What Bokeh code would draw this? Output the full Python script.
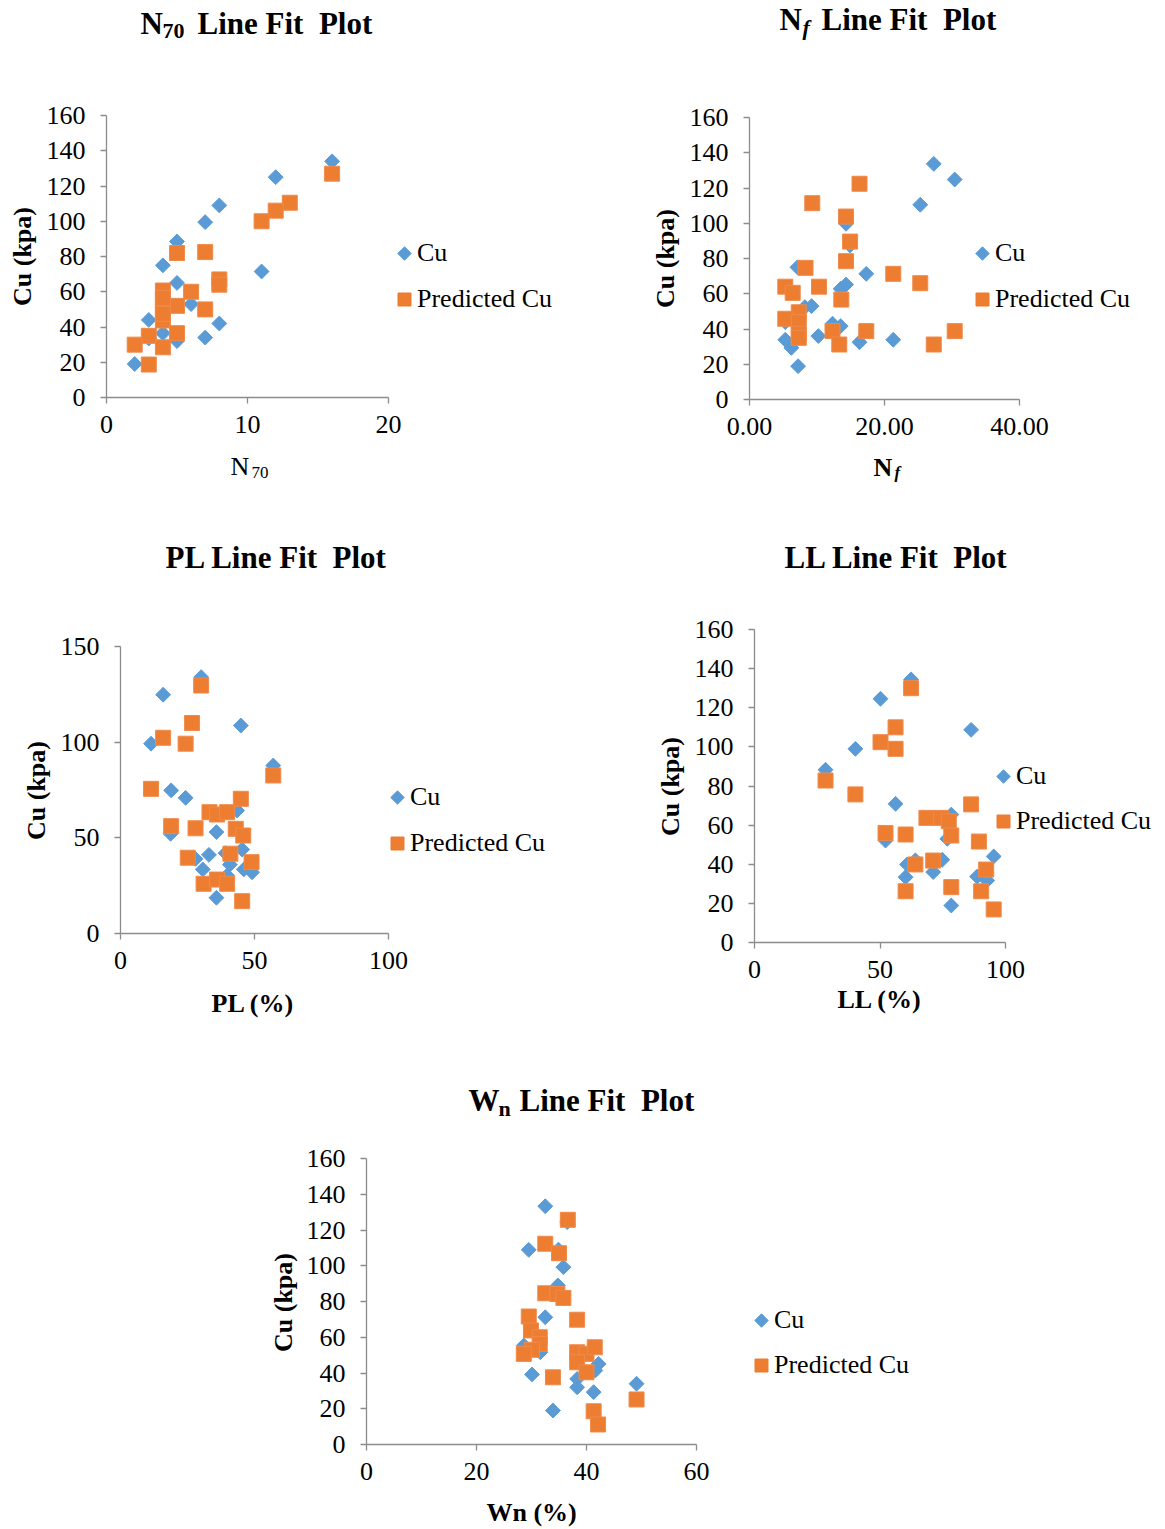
import numpy as np
from bokeh.plotting import figure
from bokeh.models import (Range1d, FixedTicker, Label, Legend, LegendItem,
                          PrintfTickFormatter)
from bokeh.layouts import column, row
from bokeh.embed import file_html
from bokeh.resources import INLINE

# ---------------- data ----------------
n70_cu_x = [16, 12, 8, 7, 5, 4, 11, 5, 6, 3, 8, 4, 5, 7, 3, 2]
n70_cu_y = [134, 125, 109, 99.5, 88.5, 75, 71.5, 65, 53, 44, 42, 36.5, 32, 34, 33.5, 19]
n70_pr_x = [16, 13, 12, 11, 5, 7, 8, 8, 4, 6, 4, 5, 7, 4, 3, 5, 2, 4, 3, 4, 4]
n70_pr_y = [127, 110.5, 106, 100, 82, 82.5, 67, 64, 60.7, 60, 52, 52, 50, 43.7, 35, 36.5, 30, 28.5, 18.7, 56.5, 47.5]

nf_cu_x = [27.3, 30.4, 25.3, 14.3, 14.9, 7.1, 17.3, 14.3, 13.5, 9.2, 8.2, 5.3, 12.3, 13.5, 10.2, 5.3, 6.2, 16.3, 21.3, 7.2]
nf_cu_y = [133.7, 124.8, 110.5, 99.7, 87.4, 75, 71.3, 65.2, 62.8, 53, 52.4, 43.9, 43, 41.6, 36, 33.9, 29.3, 32.5, 33.9, 18.9]
nf_pr_x = [16.3, 9.3, 14.3, 14.9, 14.3, 8.3, 21.3, 25.3, 5.3, 10.3, 6.4, 13.6, 7.3, 5.3, 7.3, 7.3, 7.3, 12.3, 17.3, 30.4, 13.3, 27.3]
nf_pr_y = [122.4, 111.4, 103.8, 89.6, 78.5, 74.7, 71.3, 66, 64, 64, 60.5, 56.7, 49.5, 45.8, 43.9, 37.3, 35, 38.8, 38.8, 38.8, 31.2, 31.2]

pl_cu_x = [30.1, 15.9, 44.9, 11.4, 57, 18.9, 24.3, 43.5, 18.7, 35.8, 28, 33, 39.2, 45.4, 30.7, 40.8, 46, 49.1, 39.8, 35.8]
pl_cu_y = [134, 124.8, 108.7, 99.2, 87.8, 74.8, 70.9, 64.3, 52.1, 53, 39, 41.1, 42, 43.9, 33.5, 36, 33.5, 32, 30.3, 18.7]
pl_pr_x = [30.1, 26.7, 15.9, 24.3, 57, 11.4, 44.9, 33.2, 36, 39.8, 18.9, 28, 43, 45.8, 25.1, 41, 48.9, 31, 36, 39.8, 45.4]
pl_pr_y = [129.6, 110, 102.3, 99.2, 82.6, 75.6, 70.4, 63.4, 62.2, 63.4, 56.1, 55, 54.7, 51.2, 39.6, 41.7, 37.3, 26, 28.2, 26, 16.9]

ll_cu_x = [62.4, 50.2, 86.3, 40.2, 28.3, 56.2, 78.4, 52.2, 76.8, 95.3, 60.8, 64.1, 74.8, 71.2, 60.2, 88.7, 92.7, 78.4]
ll_cu_y = [134.5, 124.6, 108.7, 99, 88.3, 70.9, 65.4, 52.1, 53, 44, 39.9, 42, 42.3, 36, 33.4, 33.7, 31.7, 18.9]
ll_pr_x = [62.4, 56.2, 50.2, 56.2, 28.3, 40.2, 86.3, 68.5, 74.4, 77.4, 52.2, 60.2, 78.4, 89.4, 64.1, 71.2, 92.3, 60.2, 78.4, 90.3, 95.3]
ll_pr_y = [130, 110, 102.4, 99, 82.8, 75.7, 70.6, 63.7, 63.7, 62, 56, 55.2, 54.7, 51.6, 39.9, 41.9, 37.3, 26.2, 28.3, 26.2, 16.9]

wn_cu_x = [32.5, 36.5, 29.5, 34.9, 35.8, 34.8, 32.5, 28.6, 31.6, 42.2, 30.1, 38.3, 38.3, 41.3, 49.1, 33.9, 41.6]
wn_cu_y = [133.3, 124.4, 108.9, 109, 99.2, 89, 71.2, 55.4, 51.6, 45.1, 39.2, 36.7, 32, 29.3, 34, 19, 41.4]
wn_pr_x = [36.6, 32.5, 35, 32.5, 34.7, 35.8, 29.5, 38.3, 29.9, 31.5, 31.5, 30.1, 28.6, 38.3, 40, 41.5, 38.3, 40, 33.9, 49.1, 41.3, 42.1]
wn_pr_y = [125.7, 112.3, 107, 84.6, 84.2, 82, 71.6, 69.8, 63.8, 60, 56.3, 53, 50.7, 51.6, 50.7, 54.4, 46, 40.4, 37.6, 25.2, 18.6, 11.2]

series_labels = ["Cu", "Predicted Cu"]
y_label = "Cu (kpa)"
ticks_160 = [0, 20, 40, 60, 80, 100, 120, 140, 160]
ticks_150 = [0, 50, 100, 150]
ticks_n70 = [0, 10, 20]
ticks_nf = [0, 20, 40]
ticks_100 = [0, 50, 100]
ticks_wn = [0, 20, 40, 60]

SERIF = "Liberation Serif"
BLUE = "#5B9BD5"
ORANGE = "#ED7D31"
AXIS = "#8C8C8C"
BL_FIX = 10


def make_panel(box, frame, xr, yr, xticks, yticks, cu, pr, titles, xlabels, ylab_pos, leg_pos, xfmt=None):
    ox, oy, W, H = box
    fl, ft, fw, fh = frame

    def dx(px):
        return xr[0] + (px - fl) / fw * (xr[1] - xr[0])

    def dy(py):
        return yr[0] + (ft + fh - py) / fh * (yr[1] - yr[0])

    p = figure(width=W, height=H, frame_width=W, frame_height=H,
               min_border_left=0, min_border_right=0, min_border_top=0, min_border_bottom=0,
               x_range=Range1d(dx(ox), dx(ox + W)), y_range=Range1d(dy(oy + H), dy(oy)),
               output_backend="svg", toolbar_location=None)
    p.outline_line_color = None
    p.xgrid.visible = False
    p.ygrid.visible = False
    p.xaxis.fixed_location = yr[0]
    p.yaxis.fixed_location = xr[0]
    p.xaxis.bounds = xr
    p.yaxis.bounds = yr
    for ax, tk in ((p.xaxis, xticks), (p.yaxis, yticks)):
        ax.ticker = FixedTicker(ticks=tk)
        ax.axis_line_color = AXIS
        ax.axis_line_width = 1.3
        ax.major_tick_line_color = AXIS
        ax.major_tick_line_width = 1.3
        ax.major_tick_out = 6
        ax.major_tick_in = 0
        ax.minor_tick_out = 0
        ax.minor_tick_in = 0
        ax.major_label_text_font = SERIF
        ax.major_label_text_font_size = "26px"
        ax.major_label_text_color = "#000000"
    p.xaxis.major_label_standoff = 12
    p.yaxis.major_label_standoff = 15
    if xfmt:
        p.xaxis.formatter = PrintfTickFormatter(format=xfmt)

    p.scatter(cu[0], cu[1], marker="square", angle=np.pi / 4, size=10.5,
              fill_color=BLUE, line_color=BLUE)
    p.scatter(pr[0], pr[1], marker="square", size=15,
              fill_color=ORANGE, line_color="#F08A4B")

    for (txt, px, py, fs, style) in titles + xlabels:
        p.add_layout(Label(x=dx(px), y=dy(py - BL_FIX), text=txt, text_font=SERIF,
                           text_font_size=fs, text_font_style=style,
                           text_align="left", text_baseline="alphabetic",
                           text_color="#000000"))
    p.add_layout(Label(x=dx(ylab_pos[0]), y=dy(ylab_pos[1]), text=y_label, text_font=SERIF,
                       text_font_size="26px", text_font_style="bold", angle=np.pi / 2,
                       text_align="center", text_baseline="middle", text_color="#000000"))

    # legend: keys drawn as markers, text via real Legend entries
    key_styles = [dict(marker="square", angle=np.pi / 4, size=9.5, fill_color=BLUE, line_color=BLUE),
                  dict(marker="square", angle=0, size=13, fill_color=ORANGE, line_color=ORANGE)]
    for lbl, (cx, cy), ks in zip(series_labels, leg_pos, key_styles):
        p.scatter([dx(cx)], [dy(cy)], **ks)
        dummy = p.scatter([], [], marker="square", size=1, fill_alpha=0, line_alpha=0)
        lg = Legend(items=[LegendItem(label=lbl, renderers=[dummy])],
                    location=(cx - 13 - ox, (oy + H) - cy - 17),
                    padding=0, margin=0, spacing=0, glyph_width=26, glyph_height=34,
                    label_height=34, label_standoff=0, label_text_font=SERIF,
                    label_text_font_size="26px", label_text_color="#000000",
                    border_line_color=None, background_fill_alpha=0)
        p.add_layout(lg)
    return p


T = "31px"
S = "22px"
A = make_panel((0, 0, 580, 500), (106, 115, 282, 282), (0, 20), (0, 160), ticks_n70, ticks_160,
               (n70_cu_x, n70_cu_y), (n70_pr_x, n70_pr_y),
               [("N", 140, 32.5, T, "bold"), ("70", 162, 40.5, S, "bold"),
                ("Line Fit\u00a0 Plot", 197, 32.5, T, "bold")],
               [("N", 230, 475.5, "26px", "normal"), ("70", 251, 482, "17px", "normal")],
               (22, 256), [(404, 253), (404, 299)])

B = make_panel((580, 0, 585, 500), (749, 117, 270, 282), (0, 40), (0, 160), ticks_nf, ticks_160,
               (nf_cu_x, nf_cu_y), (nf_pr_x, nf_pr_y),
               [("N", 779, 28.5, T, "bold"), ("f", 802, 37, S, "bold italic"),
                ("Line Fit\u00a0 Plot", 821, 28.5, T, "bold")],
               [("N", 873, 477, "26px", "bold"), ("f", 894, 482, "17px", "bold italic")],
               (665, 258), [(982, 253), (982, 299)], xfmt="%.2f")

C = make_panel((0, 500, 580, 560), (120, 646, 268, 287), (0, 100), (0, 150), ticks_100, ticks_150,
               (pl_cu_x, pl_cu_y), (pl_pr_x, pl_pr_y),
               [("PL Line Fit\u00a0 Plot", 165, 567, T, "bold")],
               [("PL (%)", 211, 1013, "26px", "bold")],
               (36, 790), [(397, 797), (397, 843)])

D = make_panel((580, 500, 585, 560), (754, 629, 251, 313), (0, 100), (0, 160), ticks_100, ticks_160,
               (ll_cu_x, ll_cu_y), (ll_pr_x, ll_pr_y),
               [("LL Line Fit\u00a0 Plot", 784, 567, T, "bold")],
               [("LL (%)", 837, 1009, "26px", "bold")],
               (670, 786), [(1003, 776), (1003, 821)])

E = make_panel((0, 1060, 1165, 469), (366, 1158, 330, 286), (0, 60), (0, 160), ticks_wn, ticks_160,
               (wn_cu_x, wn_cu_y), (wn_pr_x, wn_pr_y),
               [("W", 468, 1110, T, "bold"), ("n", 498, 1118, S, "bold"),
                ("Line Fit\u00a0 Plot", 519, 1110, T, "bold")],
               [("Wn (%)", 486, 1522, "26px", "bold")],
               (283, 1302), [(761, 1320), (761, 1365)])

layout = column(row(A, B), row(C, D), E)

open("out.html", "w").write(file_html(layout, INLINE))
